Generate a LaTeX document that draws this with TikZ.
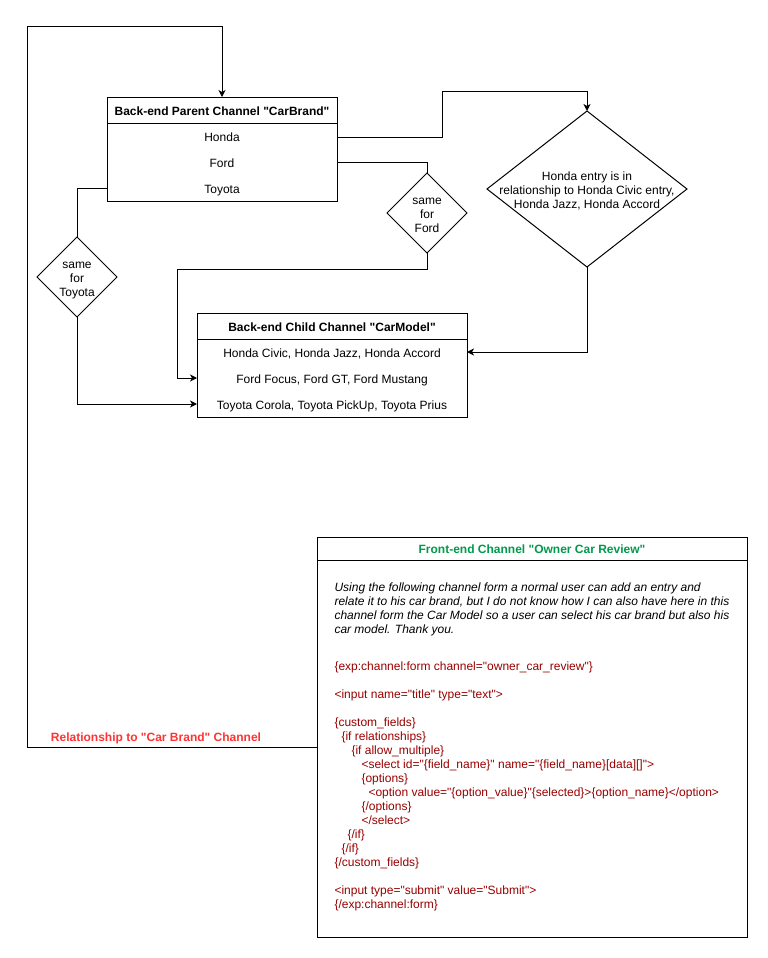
\documentclass[tikz,border=0pt]{standalone}
\usepackage{fontspec}
\setmainfont{Liberation Sans}[Ligatures=TeXOff]
\usetikzlibrary{arrows.meta,shapes.geometric}
\definecolor{codered}{RGB}{153,0,0}
\definecolor{titlegreen}{RGB}{0,153,77}
\definecolor{relred}{RGB}{255,51,51}
\begin{document}
\begin{tikzpicture}[x=1pt,y=-1pt,line width=1pt,
  box/.style={draw,rectangle,inner sep=0pt,outer sep=0pt},
  dia/.style={draw,diamond,inner sep=0pt,outer sep=0pt},
  txt/.style={font=\fontsize{12}{14}\selectfont,inner sep=0pt,anchor=base},
  hdr/.style={font=\fontsize{12}{14}\selectfont\bfseries,inner sep=0pt,anchor=base},
  code/.style={font=\fontsize{12}{14}\selectfont,text=codered,inner sep=0pt,anchor=base west},
  note/.style={font=\fontsize{12}{14}\selectfont\itshape,inner sep=0pt,anchor=base west},
  arr/.style={-{Stealth[length=7pt,width=7pt,inset=2pt]}},
  conn/.style={line join=miter}
]
\useasboundingbox (0,0) rectangle (768,958);
\fill[white] (0,0) rectangle (768,958);

% Parent box
\node[box,minimum width=230pt,minimum height=104pt] (parent) at (222,149) {};
\draw (107,123) -- (337,123);
\node[hdr] (parenthdr) at (222,115) {Back-end Parent Channel "CarBrand"};
\node[txt] (honda) at (222,141) {Honda};
\node[txt] (ford) at (222,167) {Ford};
\node[txt] (toyota) at (222,193) {Toyota};
\coordinate (hondarow) at (222,137);
\coordinate (fordrow) at (222,162);
\coordinate (toyotarow) at (222,188);

% Child box
\node[box,minimum width=270pt,minimum height=104pt] (child) at (332,365) {};
\draw (197,339) -- (467,339);
\node[hdr] (childhdr) at (332,331) {Back-end Child Channel "CarModel"};
\node[txt] (civic) at (332,357) {Honda Civic, Honda Jazz, Honda Accord};
\node[txt] (focus) at (332,383) {Ford Focus, Ford GT, Ford Mustang};
\node[txt] (corola) at (332,409) {Toyota Corola, Toyota PickUp, Toyota Prius};
\coordinate (civicrow) at (332,352);
\coordinate (focusrow) at (332,378);
\coordinate (corolarow) at (332,404);

% Diamonds
\node[dia,minimum width=200pt,minimum height=156pt] (hdia) at (587,189) {};
\node[txt] (hdt1) at (587,180) {Honda entry is in};
\node[txt] (hdt2) at (587,194) {relationship to Honda Civic entry,};
\node[txt] (hdt3) at (587,208) {Honda Jazz, Honda Accord};

\node[dia,minimum width=80pt,minimum height=80pt] (fdia) at (427,213) {};
\node[txt] (fdt1) at (427,204) {same};
\node[txt] (fdt2) at (427,218) {for};
\node[txt] (fdt3) at (427,232) {Ford};

\node[dia,minimum width=80pt,minimum height=80pt] (tdia) at (77,277) {};
\node[txt] (tdt1) at (77,268) {same};
\node[txt] (tdt2) at (77,282) {for};
\node[txt] (tdt3) at (77,296) {Toyota};

% Front-end box
\node[box,minimum width=430pt,minimum height=400pt] (front) at (532,737) {};
\draw (317,560) -- (747,560);
\node[hdr,text=titlegreen] (fronthdr) at (532,553) {Front-end Channel "Owner Car Review"};
\node[note] (n1) at (334,591) {Using the following channel form a normal user can add an entry and};
\node[note] (n2) at (334,605) {relate it to his car brand, but I do not know how I can also have here in this};
\node[note] (n3) at (334,619) {channel form the Car Model so a user can select his car brand but also his};
\node[note] (n4) at (334,633) {car model. Thank you.};

\node[code] (c1) at (334,670) {\{exp:channel:form channel="owner\_car\_review"\}};
\node[code] (c2) at (334,698) {<input name="title" type="text">};
\node[code] (c3) at (334,726) {\{custom\_fields\}};
\node[code] (c4) at (341,740) {\{if relationships\}};
\node[code] (c5) at (351,754) {\{if allow\_multiple\}};
\node[code] (c6) at (361,768) {<select id="\{field\_name\}" name="\{field\_name\}[data][]">};
\node[code] (c7) at (361,782) {\{options\}};
\node[code] (c8) at (368,796) {<option value="\{option\_value\}"\{selected\}>\{option\_name\}</option>};
\node[code] (c9) at (361,810) {\{/options\}};
\node[code] (c10) at (361,824) {</select>};
\node[code] (c11) at (347,838) {\{/if\}};
\node[code] (c12) at (341,852) {\{/if\}};
\node[code] (c13) at (334,866) {\{/custom\_fields\}};
\node[code] (c14) at (334,894) {<input type="submit" value="Submit">};
\node[code] (c15) at (334,908) {\{/exp:channel:form\}};

% Relationship loop
\coordinate (relrow) at (0,747);
\draw[arr,conn] (front.west |- relrow) -- (27,747) -- (27,27) -- (222,27) -- (parent.north);
\node[hdr,text=relred] (rellabel) at (156,741) {Relationship to "Car Brand" Channel};

% Honda connector
\draw[arr,conn] (parent.east |- hondarow) -- (442,137) -- (442,91) -- (587,91) -- (hdia.north);
\draw[arr,conn] (hdia.south) -- (587,352) -- (child.east |- civicrow);

% Ford connector
\draw[conn] (parent.east |- fordrow) -- (427,162) -- (fdia.north);
\draw[arr,conn] (fdia.south) -- (427,269) -- (177,269) -- (177,378) -- (child.west |- focusrow);

% Toyota connector
\draw[conn] (parent.west |- toyotarow) -- (77,188) -- (tdia.north);
\draw[arr,conn] (tdia.south) -- (77,404) -- (child.west |- corolarow);
\end{tikzpicture}
\end{document}
